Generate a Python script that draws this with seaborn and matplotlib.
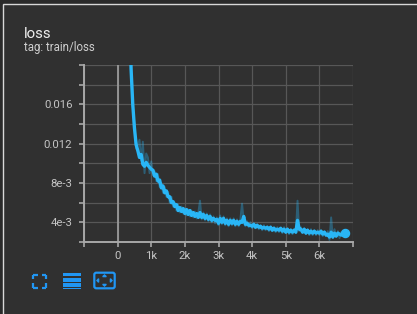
import matplotlib
matplotlib.use("Agg")
import matplotlib.pyplot as plt
import matplotlib.patches as mpatches
import numpy as np
import pandas as pd
import seaborn as sns

# ---------------- data ----------------
steps = list(range(0, 6800, 50))

smoothed_loss = [
    0.1200, 0.0950, 0.0780, 0.0640, 0.0520, 0.0420, 0.0340, 0.0265,
    0.0196, 0.0160, 0.0136, 0.0119, 0.0113, 0.0106, 0.0109, 0.0099,
    0.0097, 0.0101, 0.0098, 0.0096, 0.0094, 0.0093, 0.0087, 0.0089,
    0.0082, 0.0083, 0.0075, 0.0077, 0.0070, 0.0072, 0.0066, 0.0066,
    0.0060, 0.0061, 0.0056, 0.0058, 0.0052, 0.0055, 0.0051, 0.0054,
    0.0049, 0.0053, 0.0048, 0.0052, 0.0047, 0.0050, 0.0046, 0.0049,
    0.0045, 0.0050, 0.0045, 0.0048, 0.0044, 0.0047, 0.0043, 0.0046,
    0.0042, 0.0044, 0.0042, 0.0043, 0.0039, 0.0044, 0.0040, 0.0044,
    0.0039, 0.0042, 0.0038, 0.0042, 0.0039, 0.0042, 0.0038, 0.0041,
    0.0038, 0.0041, 0.0040, 0.0046, 0.0038, 0.0039, 0.0037, 0.0037,
    0.0036, 0.0038, 0.0035, 0.0037, 0.0035, 0.0036, 0.0034, 0.0035,
    0.0034, 0.0035, 0.0033, 0.0035, 0.0032, 0.0034, 0.0032, 0.0033,
    0.0032, 0.0034, 0.0031, 0.0033, 0.0030, 0.0033, 0.0030, 0.0032,
    0.0030, 0.0032, 0.0030, 0.0042, 0.0033, 0.0033, 0.0030, 0.0033,
    0.0029, 0.0032, 0.0029, 0.0031, 0.0029, 0.0031, 0.0029, 0.0030,
    0.0029, 0.0031, 0.0028, 0.0030, 0.0027, 0.0028, 0.0025, 0.0030,
    0.0025, 0.0029, 0.0026, 0.0029, 0.0028, 0.0027, 0.0029, 0.0029,
]

raw_loss = [
    0.1250, 0.0930, 0.0800, 0.0620, 0.0530, 0.0410, 0.0350, 0.0260,
    0.0200, 0.0158, 0.0140, 0.0115, 0.0118, 0.0124, 0.0103, 0.0122,
    0.0090, 0.0110, 0.0106, 0.0090, 0.0102, 0.0088, 0.0092, 0.0082,
    0.0089, 0.0076, 0.0080, 0.0070, 0.0076, 0.0066, 0.0071, 0.0060,
    0.0066, 0.0056, 0.0060, 0.0052, 0.0058, 0.0050, 0.0056, 0.0049,
    0.0054, 0.0047, 0.0053, 0.0046, 0.0052, 0.0045, 0.0051, 0.0044,
    0.0050, 0.0062, 0.0043, 0.0050, 0.0042, 0.0049, 0.0041, 0.0048,
    0.0040, 0.0046, 0.0039, 0.0045, 0.0037, 0.0047, 0.0038, 0.0046,
    0.0037, 0.0044, 0.0036, 0.0044, 0.0037, 0.0044, 0.0036, 0.0043,
    0.0036, 0.0043, 0.0059, 0.0042, 0.0036, 0.0041, 0.0035, 0.0040,
    0.0034, 0.0039, 0.0034, 0.0038, 0.0033, 0.0037, 0.0032, 0.0037,
    0.0032, 0.0036, 0.0031, 0.0036, 0.0031, 0.0035, 0.0030, 0.0035,
    0.0030, 0.0034, 0.0029, 0.0035, 0.0029, 0.0034, 0.0028, 0.0033,
    0.0028, 0.0033, 0.0029, 0.0062, 0.0031, 0.0035, 0.0029, 0.0034,
    0.0028, 0.0033, 0.0027, 0.0033, 0.0027, 0.0032, 0.0027, 0.0032,
    0.0027, 0.0032, 0.0026, 0.0031, 0.0026, 0.0031, 0.0022, 0.0045,
    0.0024, 0.0033, 0.0025, 0.0031, 0.0024, 0.0030, 0.0026, 0.0029,
]

x_ticks = [-1000, 0, 1000, 2000, 3000, 4000, 5000, 6000, 7000]
x_tick_labels = ["", "0", "1k", "2k", "3k", "4k", "5k", "6k", ""]
y_ticks = [0.002, 0.004, 0.006, 0.008, 0.010, 0.012, 0.014, 0.016, 0.018, 0.020]
y_tick_labels = ["", "4e-3", "", "8e-3", "", "0.012", "", "0.016", "", ""]

title_text = "loss"
subtitle_text = "tag: train/loss"

# ---------------- style ----------------
BG = "#303030"
LINE = "#29b6f6"
ICON = "#2196f3"
W, H = 417, 314
DPI = 100

sns.set_theme(style="dark")
plt.rcParams["font.family"] = ["Roboto", "DejaVu Sans"]

fig = plt.figure(figsize=(W / DPI, H / DPI), dpi=DPI)
fig.patch.set_facecolor("#2a2a2a")

# overlay for card decorations (pixel coordinates)
deco = fig.add_axes([0, 0, 1, 1])
deco.set_xlim(0, W)
deco.set_ylim(H, 0)
deco.axis("off")
deco.add_patch(mpatches.Rectangle((3, 4), W, H, facecolor=BG, edgecolor="#d8d8d8", lw=1.0))

df = pd.DataFrame({"step": steps, "smoothed": smoothed_loss, "raw": raw_loss})

ax = fig.add_axes([84 / W, 1 - 242 / H, (353 - 84) / W, (242 - 65) / H])
ax.set_facecolor(BG)

sns.lineplot(data=df, x="step", y="raw", ax=ax, color=LINE, alpha=0.35, lw=1.4)
sns.lineplot(data=df, x="step", y="smoothed", ax=ax, color=LINE, lw=2.4)
ax.plot([steps[-1]], [smoothed_loss[-1]], "o", color=LINE, ms=5.8, zorder=5)

ax.set_xlim(-1000, 7000)
ax.set_ylim(0.002, 0.020)
ax.set_xticks(x_ticks)
ax.set_xticklabels(x_tick_labels)
ax.set_yticks(y_ticks)
ax.set_yticklabels(y_tick_labels)
ax.set_xlabel("")
ax.set_ylabel("")

ax.grid(True, color="#575757", lw=0.9)
ax.axvline(0, color="#9a9a9a", lw=1.3, zorder=1)
for s in ["top", "right"]:
    ax.spines[s].set_visible(False)
for s in ["left", "bottom"]:
    ax.spines[s].set_color("#a8a8a8")
    ax.spines[s].set_linewidth(1.4)
ax.tick_params(axis="both", colors="#a8a8a8", labelcolor="#c4c4c4",
               labelsize=8.2, length=3.8, width=1.2, direction="out")
ax.tick_params(axis="y", pad=4.5)
ax.tick_params(axis="x", pad=3.0)
ax.tick_params(bottom=True, left=True)

# titles
deco.text(24, 38, title_text, color="#eeeeee", fontsize=10.8, va="baseline", ha="left")
deco.text(24, 51, subtitle_text, color="#cfcfcf", fontsize=8.3, va="baseline", ha="left")

# icons
# 1. fullscreen corners
x0, y0, x1, y1 = 33.5, 274.5, 46.5, 287.5
L = 4.5
lw_i = 1.6
for (cx, cy, dx, dy) in [(x0, y0, 1, 1), (x1, y0, -1, 1), (x0, y1, 1, -1), (x1, y1, -1, -1)]:
    deco.plot([cx, cx + dx * L], [cy, cy], color=ICON, lw=lw_i, solid_capstyle="butt")
    deco.plot([cx, cx], [cy, cy + dy * L], color=ICON, lw=lw_i, solid_capstyle="butt")
# 2. list lines
for (yt, hh) in [(272.5, 3.5), (278.2, 3.5), (283.4, 3.4), (288.2, 1.1)]:
    deco.add_patch(mpatches.Rectangle((63, yt), 18, hh, facecolor=ICON, edgecolor="none"))
# 3. box with arrows
deco.add_patch(mpatches.FancyBboxPatch((94.3, 272.7), 20.4, 15.6,
                                       boxstyle="round,pad=0,rounding_size=2",
                                       facecolor="none", edgecolor=ICON, lw=1.6))
cx, cy = 104.5, 280.5
deco.add_patch(mpatches.Polygon([[cx - 1.8, 276.6], [cx + 1.8, 276.6], [cx, 275.0]], color=ICON))
deco.add_patch(mpatches.Polygon([[cx - 1.8, 284.4], [cx + 1.8, 284.4], [cx, 286.0]], color=ICON))
deco.add_patch(mpatches.Polygon([[98.6, cy - 1.8], [98.6, cy + 1.8], [97.0, cy]], color=ICON))
deco.add_patch(mpatches.Polygon([[110.4, cy - 1.8], [110.4, cy + 1.8], [112.0, cy]], color=ICON))

fig.savefig("out.png", dpi=DPI, facecolor=fig.get_facecolor())
